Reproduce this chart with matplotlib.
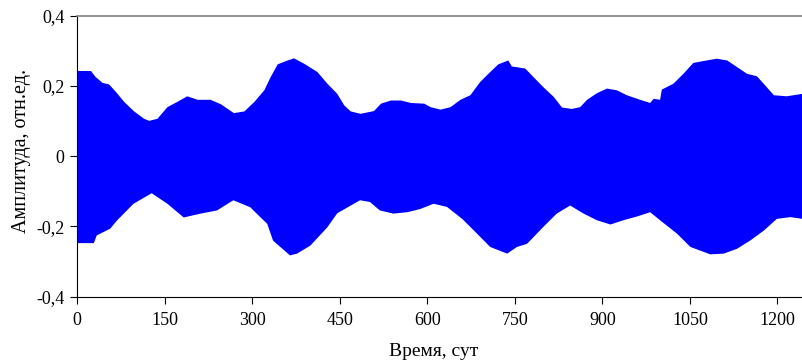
import matplotlib
matplotlib.use("Agg")
import matplotlib.pyplot as plt
import numpy as np

# Upper envelope of the signal (time in days, amplitude)
t_upper = [0, 23, 31, 43, 54, 66, 80, 97, 114, 123, 137, 154, 171, 188, 206, 228, 246,
           268, 286, 303, 320, 331, 343, 360, 371, 388, 411, 428, 445, 457, 468, 485,
           508, 520, 537, 554, 571, 594, 605, 622, 639, 656, 673, 690, 707, 721, 738,
           744, 767, 781, 798, 816, 830, 847, 861, 873, 890, 907, 924, 941, 964, 981,
           987, 998, 1001, 1021, 1038, 1055, 1078, 1095, 1113, 1130, 1147, 1164, 1178,
           1193, 1215, 1242]
upper = [0.244, 0.244, 0.227, 0.210, 0.206, 0.184, 0.156, 0.129, 0.108, 0.102, 0.108,
         0.141, 0.156, 0.172, 0.162, 0.162, 0.149, 0.124, 0.129, 0.156, 0.189, 0.227,
         0.263, 0.274, 0.280, 0.265, 0.241, 0.208, 0.179, 0.146, 0.129, 0.122, 0.130,
         0.151, 0.160, 0.160, 0.153, 0.151, 0.141, 0.134, 0.141, 0.162, 0.175, 0.213,
         0.241, 0.263, 0.274, 0.257, 0.251, 0.227, 0.198, 0.170, 0.140, 0.136, 0.141,
         0.162, 0.181, 0.194, 0.189, 0.175, 0.162, 0.153, 0.165, 0.162, 0.191, 0.208,
         0.236, 0.267, 0.274, 0.279, 0.274, 0.255, 0.236, 0.229, 0.203, 0.175, 0.172,
         0.179]

# Lower envelope of the signal
t_lower = [0, 28, 33, 56, 68, 96, 127, 154, 182, 211, 239, 267, 296, 313, 325, 335,
           364, 376, 399, 428, 445, 484, 501, 518, 541, 565, 587, 610, 633, 659, 679,
           707, 736, 753, 770, 776, 798, 821, 844, 867, 890, 913, 935, 959, 981, 998,
           1027, 1050, 1084, 1107, 1130, 1153, 1176, 1198, 1221, 1242]
lower = [-0.246, -0.246, -0.224, -0.205, -0.181, -0.134, -0.104, -0.134, -0.173,
         -0.162, -0.153, -0.124, -0.144, -0.172, -0.191, -0.239, -0.281, -0.276,
         -0.253, -0.201, -0.161, -0.124, -0.129, -0.153, -0.162, -0.158, -0.149,
         -0.134, -0.143, -0.177, -0.210, -0.257, -0.276, -0.257, -0.248, -0.238,
         -0.200, -0.162, -0.139, -0.162, -0.181, -0.193, -0.181, -0.170, -0.158,
         -0.181, -0.219, -0.257, -0.278, -0.276, -0.262, -0.238, -0.210, -0.177,
         -0.172, -0.177]

x_ticks = [0, 150, 300, 450, 600, 750, 900, 1050, 1200]
y_ticks = [-0.4, -0.2, 0.0, 0.2, 0.4]
y_tick_labels = ["-0,4", "-0,2", "0", "0,2", "0,4"]

plt.rcParams['font.family'] = ['Liberation Serif', 'DejaVu Serif']

fig = plt.figure(figsize=(8.02, 3.64), dpi=100)
ax = fig.add_axes([77 / 802, (364 - 296.7) / 364, 1 - 77 / 802, (296.7 - 15.7) / 364])

t_grid = np.union1d(t_upper, t_lower)
up_i = np.interp(t_grid, t_upper, upper)
lo_i = np.interp(t_grid, t_lower, lower)
ax.fill_between(t_grid, lo_i, up_i, color='#0000ff', linewidth=0)

ax.set_xlim(0, 1242)
ax.set_ylim(-0.4, 0.4)
ax.set_xticks(x_ticks)
ax.set_xticklabels([str(v) for v in x_ticks])
ax.set_yticks(y_ticks)
ax.set_yticklabels(y_tick_labels)
ax.tick_params(axis='both', direction='out', length=5, width=0.8, labelsize=13, colors='black')
ax.tick_params(axis='x', pad=6)
ax.tick_params(axis='y', pad=4)

ax.spines['top'].set_color('#808080')
ax.spines['top'].set_linewidth(1.2)
ax.spines['right'].set_visible(False)
ax.spines['left'].set_color('black')
ax.spines['bottom'].set_color('black')

ax.set_xlabel('Время, сут', fontsize=14)
ax.xaxis.set_label_coords(0.492, -0.165)
ax.set_ylabel('Амплитуда, отн.ед.', fontsize=14.5)
ax.yaxis.set_label_coords(-0.064, 0.52)

fig.savefig('out.png', dpi=100)
